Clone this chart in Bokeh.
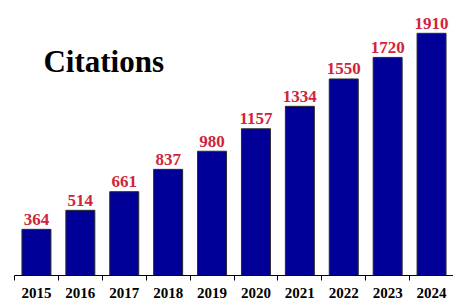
from bokeh.plotting import figure
from bokeh.models import FixedTicker, Range1d, Label, ColumnDataSource
from bokeh.core.properties import value
from bokeh.embed import file_html
from bokeh.resources import INLINE

years = ["2015", "2016", "2017", "2018", "2019", "2020", "2021", "2022", "2023", "2024"]
citations = [364, 514, 661, 837, 980, 1157, 1334, 1550, 1720, 1910]
title_text = "Citations"

xs = list(range(len(years)))
src = ColumnDataSource(dict(x=xs, top=citations, lab=[str(v) for v in citations]))

p = figure(width=453, height=300, output_backend="svg", toolbar_location=None,
           x_range=Range1d(-0.5, len(years) - 0.5), y_range=Range1d(0, 2090),
           min_border_left=14, min_border_right=0, min_border_top=10, min_border_bottom=0)
p.outline_line_color = None
p.grid.visible = False
p.yaxis.visible = False

p.vbar(x="x", top="top", bottom=0, width=0.66, source=src,
       fill_color="#000099", line_color="#2a2a2a", line_width=1)

p.text(x="x", y="top", text="lab", source=src, text_align="center",
       text_baseline="middle", y_offset=-10,
       text_font=value("Liberation Serif"), text_font_style="bold",
       text_font_size="17px", text_color="#d0243c")

ax = p.xaxis[0]
ax.ticker = FixedTicker(ticks=xs, minor_ticks=[i - 0.5 for i in range(len(years) + 1)])
ax.major_label_overrides = {i: y for i, y in enumerate(years)}
ax.major_tick_out = 0
ax.major_tick_in = 0
ax.minor_tick_out = 5
ax.minor_tick_in = 0
ax.minor_tick_line_color = "black"
ax.axis_line_color = "black"
ax.major_label_standoff = 7
ax.major_label_text_line_height = 0.8
ax.major_label_text_font = "Liberation Serif"
ax.major_label_text_font_style = "bold"
ax.major_label_text_font_size = "15px"
ax.major_label_text_color = "black"

p.add_layout(Label(x=0.16, y=1688, text=title_text, text_font="Liberation Serif",
                   text_font_style="bold", text_font_size="31px", text_color="black",
                   text_baseline="middle"))

open("out.html", "w").write(file_html(p, INLINE))
